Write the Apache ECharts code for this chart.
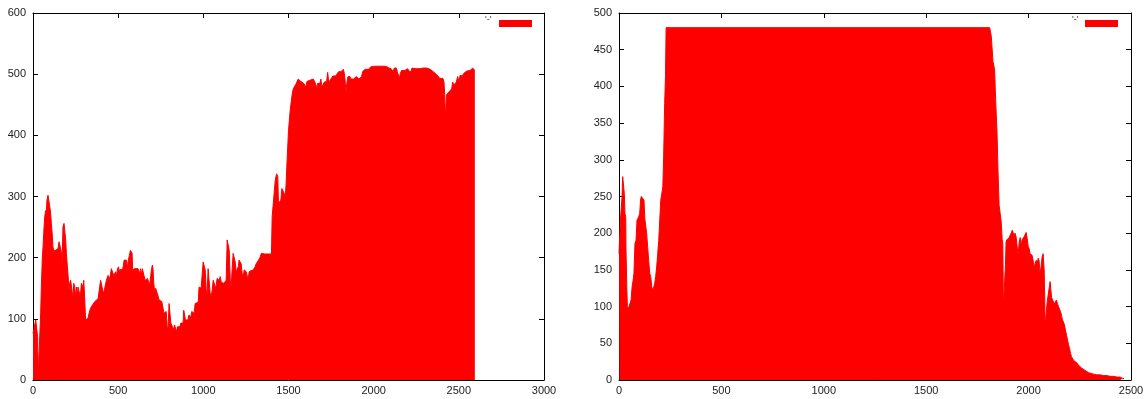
<!DOCTYPE html>
<html>
<head>
<meta charset="utf-8">
<script src="https://cdn.jsdelivr.net/npm/echarts@6/dist/echarts.min.js"></script>
<style>
  html, body { margin: 0; padding: 0; background: #fff; }
  #chart { width: 1148px; height: 399px; }
</style>
</head>
<body>
<div id="chart"></div>
<script>
// left plot: x positions and values
const leftX = [
  0, 10, 16, 25, 27, 31, 39, 41, 45, 49,
  55, 59, 65, 69, 74, 78, 82, 88, 94, 98,
  102, 108, 114, 117, 121, 127, 133, 141, 147, 153,
  161, 166, 170, 176, 182, 188, 192, 196, 202, 208,
  211, 215, 221, 227, 231, 235, 239, 245, 249, 255,
  260, 264, 270, 274, 278, 284, 290, 294, 298, 303,
  309, 319, 323, 329, 337, 343, 352, 362, 372, 382,
  392, 397, 401, 407, 413, 419, 427, 431, 437, 441,
  446, 454, 460, 466, 470, 474, 480, 486, 490, 495,
  501, 505, 509, 513, 519, 525, 529, 535, 540, 548,
  554, 560, 566, 572, 578, 582, 585, 591, 597, 607,
  617, 623, 627, 632, 636, 642, 646, 652, 658, 666,
  672, 677, 681, 685, 689, 695, 701, 705, 709, 715,
  720, 724, 730, 736, 740, 744, 750, 756, 762, 768,
  772, 778, 782, 786, 789, 793, 799, 803, 809, 815,
  819, 825, 831, 836, 842, 848, 854, 862, 868, 874,
  881, 885, 891, 895, 901, 909, 915, 921, 927, 932,
  940, 946, 952, 960, 970, 975, 981, 987, 993, 999,
  1005, 1011, 1017, 1022, 1028, 1034, 1040, 1046, 1052, 1058,
  1066, 1073, 1081, 1087, 1093, 1099, 1105, 1113, 1120, 1128,
  1134, 1140, 1146, 1152, 1158, 1163, 1169, 1175, 1181, 1187,
  1193, 1199, 1205, 1210, 1216, 1222, 1228, 1234, 1240, 1246,
  1252, 1257, 1263, 1269, 1275, 1281, 1287, 1293, 1299, 1304,
  1310, 1316, 1322, 1328, 1334, 1340, 1346, 1361, 1381, 1400,
  1404, 1410, 1416, 1422, 1430, 1437, 1441, 1449, 1455, 1461,
  1469, 1475, 1481, 1486, 1490, 1500, 1510, 1522, 1528, 1534,
  1542, 1549, 1557, 1565, 1573, 1581, 1589, 1596, 1602, 1608,
  1616, 1626, 1636, 1645, 1655, 1661, 1667, 1671, 1679, 1685,
  1690, 1696, 1704, 1710, 1718, 1724, 1730, 1736, 1741, 1749,
  1755, 1761, 1769, 1777, 1783, 1788, 1794, 1802, 1808, 1816,
  1822, 1828, 1833, 1837, 1843, 1849, 1855, 1861, 1867, 1875,
  1882, 1890, 1898, 1906, 1914, 1922, 1929, 1935, 1941, 1949,
  1959, 1969, 1976, 1984, 1992, 2008, 2027, 2047, 2066, 2078,
  2090, 2102, 2109, 2115, 2121, 2127, 2133, 2139, 2145, 2151,
  2156, 2164, 2174, 2184, 2194, 2200, 2207, 2213, 2219, 2225,
  2233, 2243, 2249, 2256, 2262, 2272, 2282, 2292, 2301, 2311,
  2321, 2331, 2341, 2350, 2360, 2370, 2380, 2389, 2399, 2407,
  2413, 2417, 2421, 2427, 2435, 2442, 2450, 2458, 2464, 2470,
  2478, 2485, 2493, 2501, 2507, 2513, 2521, 2528, 2536, 2546,
  2556, 2566, 2575, 2581, 2587, 2594
]
const leftY = [
  76, 79, 98, 98, 71, 11, 8, 11, 109, 152,
  201, 218, 250, 267, 277, 272, 294, 302, 305, 299,
  277, 256, 234, 218, 212, 210, 212, 212, 215, 226,
  223, 210, 185, 250, 256, 256, 229, 207, 185, 163,
  147, 158, 163, 160, 142, 136, 158, 152, 136, 152,
  136, 152, 152, 150, 136, 158, 160, 152, 163, 136,
  98, 98, 101, 109, 117, 120, 124, 128, 131, 133,
  136, 163, 166, 163, 142, 147, 158, 163, 163, 171,
  163, 171, 182, 185, 182, 171, 174, 177, 168, 180,
  185, 188, 177, 181, 182, 180, 185, 196, 199, 196,
  185, 196, 204, 212, 212, 207, 180, 182, 182, 184,
  182, 180, 174, 182, 171, 182, 180, 180, 163, 164,
  166, 164, 163, 155, 158, 180, 188, 180, 158, 142,
  150, 152, 150, 136, 131, 128, 131, 128, 120, 109,
  112, 109, 112, 93, 82, 87, 125, 122, 93, 93,
  87, 82, 90, 87, 79, 87, 84, 87, 93, 90,
  93, 114, 112, 98, 98, 98, 106, 103, 103, 112,
  114, 109, 125, 127, 127, 152, 152, 150, 150, 193,
  196, 180, 147, 139, 182, 180, 142, 136, 147, 163,
  164, 150, 166, 169, 163, 169, 160, 158, 158, 158,
  163, 229, 226, 212, 163, 152, 180, 207, 204, 193,
  177, 174, 185, 196, 199, 190, 174, 169, 180, 181,
  177, 177, 163, 177, 180, 179, 177, 180, 182, 185,
  190, 193, 195, 196, 201, 207, 207, 206, 206, 206,
  267, 286, 286, 326, 337, 333, 289, 286, 294, 313,
  313, 305, 299, 321, 348, 408, 441, 468, 476, 479,
  483, 487, 492, 490, 488, 487, 485, 487, 479, 488,
  487, 490, 488, 492, 487, 482, 476, 485, 482, 485,
  492, 479, 482, 487, 485, 488, 503, 487, 490, 492,
  493, 497, 498, 497, 499, 496, 504, 501, 504, 506,
  508, 501, 487, 471, 486, 496, 499, 496, 492, 493,
  492, 494, 496, 498, 492, 494, 496, 504, 506, 508,
  508, 508, 510, 512, 513, 513, 513, 513, 513, 512,
  510, 509, 510, 504, 510, 512, 510, 504, 501, 493,
  501, 506, 508, 506, 506, 509, 505, 508, 504, 510,
  509, 509, 512, 509, 510, 509, 510, 510, 509, 510,
  508, 508, 506, 504, 501, 499, 497, 493, 490, 493,
  487, 466, 428, 466, 468, 471, 474, 476, 487, 482,
  485, 487, 496, 487, 498, 501, 497, 501, 504, 505,
  505, 506, 509, 510, 509, 506
]

// right plot
const rightX = [
  0, 2, 7, 12, 15, 18, 23, 26, 29, 33,
  34, 38, 41, 44, 49, 54, 59, 64, 69, 73,
  78, 83, 88, 93, 96, 101, 106, 109, 117, 122,
  126, 131, 135, 140, 145, 150, 155, 160, 165, 170,
  174, 179, 184, 189, 194, 199, 204, 209, 214, 218,
  223, 227, 230, 1810, 1818, 1826, 1834, 1839, 1846, 1850,
  1856, 1861, 1866, 1871, 1874, 1877, 1882, 1887, 1890, 1893,
  1898, 1903, 1910, 1915, 1920, 1924, 1929, 1934, 1939, 1944,
  1949, 1954, 1959, 1964, 1968, 1973, 1978, 1983, 1988, 1993,
  1998, 2003, 2007, 2012, 2017, 2022, 2027, 2032, 2037, 2042,
  2047, 2051, 2056, 2061, 2066, 2071, 2076, 2081, 2086, 2091,
  2095, 2100, 2105, 2108, 2112, 2117, 2122, 2126, 2131, 2136,
  2141, 2146, 2151, 2156, 2161, 2165, 2170, 2175, 2180, 2185,
  2190, 2195, 2200, 2205, 2209, 2214, 2219, 2227, 2236, 2244,
  2252, 2260, 2268, 2276, 2284, 2293, 2301, 2317, 2333, 2350,
  2366, 2382, 2398, 2415, 2431, 2447, 2460, 2466
]
const rightY = [
  172, 172, 218, 218, 250, 277, 277, 254, 227, 222,
  181, 127, 100, 97, 100, 102, 109, 127, 136, 145,
  186, 190, 218, 218, 222, 227, 247, 250, 250, 245,
  220, 218, 200, 181, 163, 145, 141, 127, 122, 127,
  131, 141, 154, 172, 190, 218, 245, 243, 263, 304,
  377, 413, 480, 480, 468, 434, 423, 382, 336, 291,
  238, 236, 216, 191, 186, 100, 100, 157, 188, 191,
  193, 193, 193, 200, 204, 205, 197, 200, 195, 182,
  170, 188, 194, 182, 191, 193, 195, 197, 201, 193,
  182, 179, 172, 172, 170, 163, 153, 159, 163, 159,
  166, 163, 145, 154, 168, 172, 150, 75, 75, 107,
  109, 109, 134, 134, 113, 109, 107, 104, 102, 109,
  104, 100, 100, 93, 88, 82, 79, 75, 68, 61,
  55, 48, 43, 36, 32, 30, 27, 25, 23, 20,
  18, 16, 14, 13, 11, 10, 9, 8, 7, 7,
  6, 6, 5, 5, 4, 4, 2, 2
]

const legendText = "'-'"
const RED = '#ff0000'
const FONT = 'Liberation Sans'

const zip = (xs, ys) => xs.map((x, i) => [x, ys[i]])

const tick = { show: true, inside: true, length: 5, lineStyle: { color: '#000', width: 1 } }
const label = { color: '#222', fontSize: 11, fontFamily: FONT, formatter: v => String(v) }
const line = { show: true, onZero: false, lineStyle: { color: '#000', width: 1 } }

function xAxes (grid, max) {
  const base = { type: 'value', gridIndex: grid, min: 0, max: max, interval: 500,
    axisLine: line, axisTick: tick, splitLine: { show: false } }
  return [
    Object.assign({}, base, { position: 'bottom', axisLabel: Object.assign({ margin: 5 }, label) }),
    Object.assign({}, base, { position: 'top', axisLabel: { show: false } })
  ]
}
function yAxes (grid, max, interval) {
  const base = { type: 'value', gridIndex: grid, min: 0, max: max, interval: interval,
    axisLine: line, axisTick: tick, splitLine: { show: false } }
  return [
    Object.assign({}, base, { position: 'left', axisLabel: Object.assign({ margin: 7 }, label) }),
    Object.assign({}, base, { position: 'right', axisLabel: { show: false } })
  ]
}

function area (xi, yi, data) {
  return {
    type: 'line', xAxisIndex: xi, yAxisIndex: yi, data: data,
    symbol: 'none', showSymbol: false,
    lineStyle: { color: RED, width: 1 },
    areaStyle: { color: RED, opacity: 1 },
    silent: true
  }
}

// gnuplot style key: tiny title then a red swatch
function legendKey (textX, rectX) {
  return [
    { type: 'text', x: textX, y: 15,
      style: { text: legendText, fontSize: 9, fill: '#444', fontFamily: FONT } },
    { type: 'rect', shape: { x: rectX, y: 20, width: 33, height: 7 }, style: { fill: RED } }
  ]
}

const chart = echarts.init(document.getElementById('chart'), null, { renderer: 'canvas' })
chart.setOption({
  animation: false,
  backgroundColor: '#fff',
  grid: [
    { left: 33, top: 13, width: 511, height: 367, outerBoundsMode: 'none', containLabel: false },
    { left: 619, top: 13, width: 512, height: 367, outerBoundsMode: 'none', containLabel: false }
  ],
  xAxis: xAxes(0, 3000).concat(xAxes(1, 2500)),
  yAxis: yAxes(0, 600, 100).concat(yAxes(1, 500, 50)),
  series: [
    area(0, 0, zip(leftX, leftY)),
    area(2, 2, zip(rightX, rightY))
  ],
  graphic: legendKey(485, 499).concat(legendKey(1072, 1085))
})
</script>
</body>
</html>
